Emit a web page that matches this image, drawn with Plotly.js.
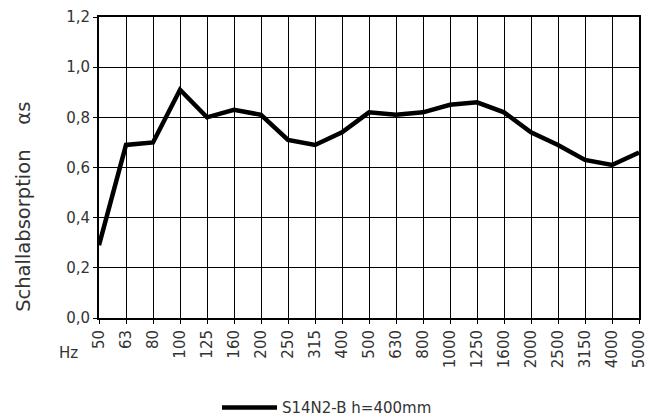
<!DOCTYPE html>
<html><head><meta charset="utf-8">
<script src="https://cdn.plot.ly/plotly-3.0.1.min.js"></script>
<style>html,body{margin:0;padding:0;background:#fff}</style>
</head><body>
<div id="chart" style="width:654px;height:419px"></div>
<script>
const frequencies = ["50","63","80","100","125","160","200","250","315","400","500","630","800","1000","1250","1600","2000","2500","3150","4000","5000"];
const absorption = [0.29,0.69,0.70,0.91,0.80,0.83,0.81,0.71,0.69,0.74,0.82,0.81,0.82,0.85,0.86,0.82,0.74,0.69,0.63,0.61,0.66];
const yTicks = [0,0.2,0.4,0.6,0.8,1.0,1.2];
const yTickLabels = ["0,0","0,2","0,4","0,6","0,8","1,0","1,2"];
const seriesName = "S14N2-B h=400mm";
const yTitle = "Schallabsorption    αs";

const font = "'DejaVu Sans', sans-serif";
const txt = "#333";
Plotly.newPlot("chart", [{
  x: frequencies, y: absorption, type: "scatter", mode: "lines",
  name: seriesName, line: {color: "#000", width: 4.5}
}], {
  width: 654, height: 419,
  margin: {l: 99, r: 15, t: 17, b: 101},
  paper_bgcolor: "#fff", plot_bgcolor: "#fff",
  font: {family: font, color: txt, size: 15},
  showlegend: true,
  legend: {orientation: "h", x: 0.5, xanchor: "center", y: 0.027, yanchor: "middle", xref: "container", yref: "container", font: {size: 15, color: txt}, itemwidth: 55},
  xaxis: {
    type: "category", range: [0, 20], tickangle: -90, automargin: false,
    tickmode: "linear", dtick: 1, tick0: 0,
    showgrid: true, gridcolor: "#000", gridwidth: 1,
    showline: true, linecolor: "#000", linewidth: 2, mirror: true,
    ticks: "outside", ticklen: 4, tickcolor: "#000",
    tickfont: {size: 15, color: txt}, zeroline: false
  },
  yaxis: {
    range: [0, 1.2], tickvals: yTicks, ticktext: yTickLabels, automargin: false,
    showgrid: true, gridcolor: "#000", gridwidth: 1,
    showline: true, linecolor: "#000", linewidth: 2, mirror: true,
    ticks: "outside", ticklen: 4, tickcolor: "#000",
    tickfont: {size: 15, color: txt}, zeroline: false
  },
  annotations: [{
    text: "Hz", xref: "paper", yref: "paper", x: -0.035, y: -0.115,
    xanchor: "right", yanchor: "middle", showarrow: false,
    font: {size: 15, color: txt}
  }, {
    text: yTitle, xref: "paper", yref: "paper", x: -0.139, y: 0.369,
    xanchor: "center", yanchor: "middle", textangle: -90, showarrow: false,
    font: {size: 19.5, color: txt}
  }]
}, {displayModeBar: false, staticPlot: true});
</script>
</body></html>
